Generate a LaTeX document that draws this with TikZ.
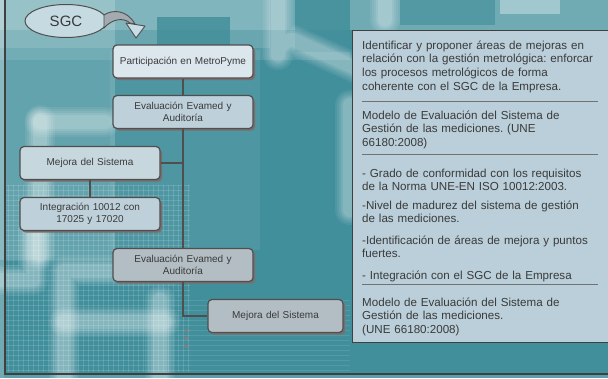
\documentclass[tikz,border=0pt]{standalone}
\usepackage{fontspec}
\setmainfont{Liberation Sans}
\frenchspacing
\usetikzlibrary{shadows,shapes.geometric}
\definecolor{bgteal}{HTML}{418F9B}
\definecolor{darkteal}{HTML}{3F8D99}
\definecolor{boxA}{HTML}{DCE7ED}
\definecolor{boxB}{HTML}{BED1DA}
\definecolor{boxC}{HTML}{C6D7DE}
\definecolor{boxD}{HTML}{B3BEC4}
\definecolor{panelfill}{HTML}{BACFD9}
\definecolor{edgecol}{HTML}{4F4F4F}
\definecolor{shadcol}{HTML}{7A6D6D}
\definecolor{txtcol}{HTML}{3A3A3A}
\definecolor{ellfill}{HTML}{C6DAE2}
\definecolor{bandfill}{HTML}{A3ABB0}
\definecolor{headfill}{HTML}{C8DDE5}
\newcommand\softpath[1]{%
  \foreach \w/\o in {30/0.07,26/0.07,22/0.08,18/0.10,14/0.12}{%
    \draw[line cap=round,line join=round,draw=white,draw opacity=\o,line width=\w pt] #1;}}
\tikzset{
  flowbox/.style={draw=edgecol, line width=1.2pt, rounded corners=4pt, text=txtcol,
    font=\fontsize{10}{12}\selectfont, align=center, text width=132pt,
    minimum width=140pt, minimum height=33pt, inner sep=0pt,
    drop shadow={shadow xshift=2pt, shadow yshift=-2.2pt, fill=shadcol, opacity=1}},
  conn/.style={draw=edgecol, line width=1.2pt},
  paneltext/.style={anchor=base west, text width=250pt, align=left, inner sep=0pt,
    text=txtcol, font=\fontsize{11.6}{13.8}\selectfont},
  sepline/.style={draw=edgecol!80, line width=0.8pt},
}
\begin{document}
\begin{tikzpicture}[x=1pt,y=-1pt]
\useasboundingbox (0,0) rectangle (608,378);
\begin{scope}
\clip (0,0) rectangle (608,378);
% ---------- background ----------
\fill[bgteal] (0,0) rectangle (608,378);
% top light band
\fill[white,opacity=0.25] (0,0) rectangle (608,30);
\fill[white,opacity=0.12] (0,0) rectangle (270,48);
\fill[white,opacity=0.10] (0,30) rectangle (350,60);
% left light region
\fill[white,opacity=0.18] (0,0) rectangle (115,260);
\fill[white,opacity=0.07] (110,50) rectangle (260,250);
% darker blocks
\fill[darkteal,opacity=0.8] (157,17) rectangle (230,60);
\fill[darkteal,opacity=0.8] (295,0) rectangle (350,52);
\fill[darkteal,opacity=0.6] (400,0) rectangle (495,25);
\fill[white,opacity=0.35] (500,0) rectangle (560,14);
% light strokes
\softpath{(278,0) -- (278,55) arc[start angle=180,end angle=90,radius=15pt] -- (360,70)}
\softpath{(385,0) -- (385,20)}
\softpath{(350,105) -- (350,210)}
\softpath{(40,120) -- (40,255)}
\softpath{(40,122) -- (105,122)}
\softpath{(40,165) -- (110,165)}
\softpath{(33,230) -- (33,280) -- (0,280)}
% F shape
\softpath{(64,385) -- (64,271) -- (170,271)}
\softpath{(64,322) -- (165,322)}
\softpath{(160,300) -- (160,385)}
% grid
\foreach \x in {8,13,...,188} \draw[white,opacity=0.14,line width=0.5pt] (\x,185) -- (\x,372);
\foreach \y in {185,190,...,370} \draw[white,opacity=0.14,line width=0.5pt] (5,\y) -- (190,\y);
\foreach \y in {300,305,...,370} \draw[white,opacity=0.10,line width=0.5pt] (190,\y) -- (350,\y);
% frame
\fill[white,opacity=0.25] (0,0) rectangle (4,378);
\fill[white,opacity=0.15] (4,375) rectangle (608,378);
\draw[line width=2pt,draw=black!75] (5,0) -- (5,374) -- (608,374);
\end{scope}
% ---------- SGC and curved arrow ----------
\node[ellipse, draw=edgecol, line width=1pt, fill=ellfill, minimum width=82pt,
  minimum height=33pt, inner sep=0pt, text=txtcol, font=\fontsize{15}{18}\selectfont]
  (sgc) at (66,21) {SGC};
\filldraw[fill=bandfill, draw=edgecol, line width=0.9pt]
  (104,15) .. controls (113,9) and (127,10) .. (135,24)
  -- (130,23) .. controls (123,17) and (112,19) .. (104,28) -- cycle;
\filldraw[fill=headfill, draw=edgecol, line width=0.9pt, line join=round]
  (126,23) -- (145,26) -- (136,38) -- cycle;
% ---------- flow boxes ----------
\node[flowbox, fill=boxA] (part) at (183,61.5) {Participación en MetroPyme};
\node[flowbox, fill=boxB] (eval1) at (183,112) {Evaluación Evamed y\\Auditoría};
\node[flowbox, fill=boxC] (mej1) at (90,163) {Mejora del Sistema};
\node[flowbox, fill=boxB] (integ) at (90,214) {Integración 10012 con\\17025 y 17020};
\node[flowbox, fill=boxD] (eval2) at (183,265) {Evaluación Evamed y\\Auditoría};
\node[flowbox, fill=boxD, minimum width=135pt, text width=127pt] (mej2) at (275.5,316) {Mejora del Sistema};
% connectors
\draw[conn] (part.south) -- (eval1.north);
\draw[conn] (eval1.south) -- (eval2.north);
\draw[conn] (mej1.east) -- (mej1.east -| eval1.south);
\draw[conn] (mej1.south) -- (integ.north);
\draw[conn] (eval2.south) |- (mej2.west);
\foreach \y in {329,337,345} \fill[shadcol!90] (184.5,\y) rectangle +(3,3);
% ---------- right panel ----------
\node[draw=black!75, line width=1pt, fill=panelfill, minimum width=258pt, minimum height=312pt,
  inner sep=0pt, anchor=north west] (panel) at (352,30) {};
\node[paneltext] (t1) at (362,49) {Identificar y proponer áreas de mejoras en\\relación con la gestión metrológica: enforcar\\los procesos metrológicos de forma\\coherente con el SGC de la Empresa.};
\draw[sepline] (362,101) -- (598,101);
\node[paneltext] (t2) at (362,119) {Modelo de Evaluación del Sistema de\\Gestión de las mediciones. (UNE\\66180:2008)};
\draw[sepline] (362,154) -- (598,154);
\node[paneltext] (t3) at (362,177) {- Grado de conformidad con los requisitos\\de la Norma UNE-EN ISO 10012:2003.};
\node[paneltext] (t4) at (362,209) {-Nivel de madurez del sistema de gestión\\de las mediciones.};
\node[paneltext] (t5) at (362,244) {-Identificación de áreas de mejora y puntos\\fuertes.};
\node[paneltext] (t6) at (362,279) {- Integración con el SGC de la Empresa};
\draw[sepline] (362,284) -- (598,284);
\node[paneltext] (t7) at (362,306) {Modelo de Evaluación del Sistema de\\Gestión de las mediciones.\\(UNE 66180:2008)};
\end{tikzpicture}
\end{document}
